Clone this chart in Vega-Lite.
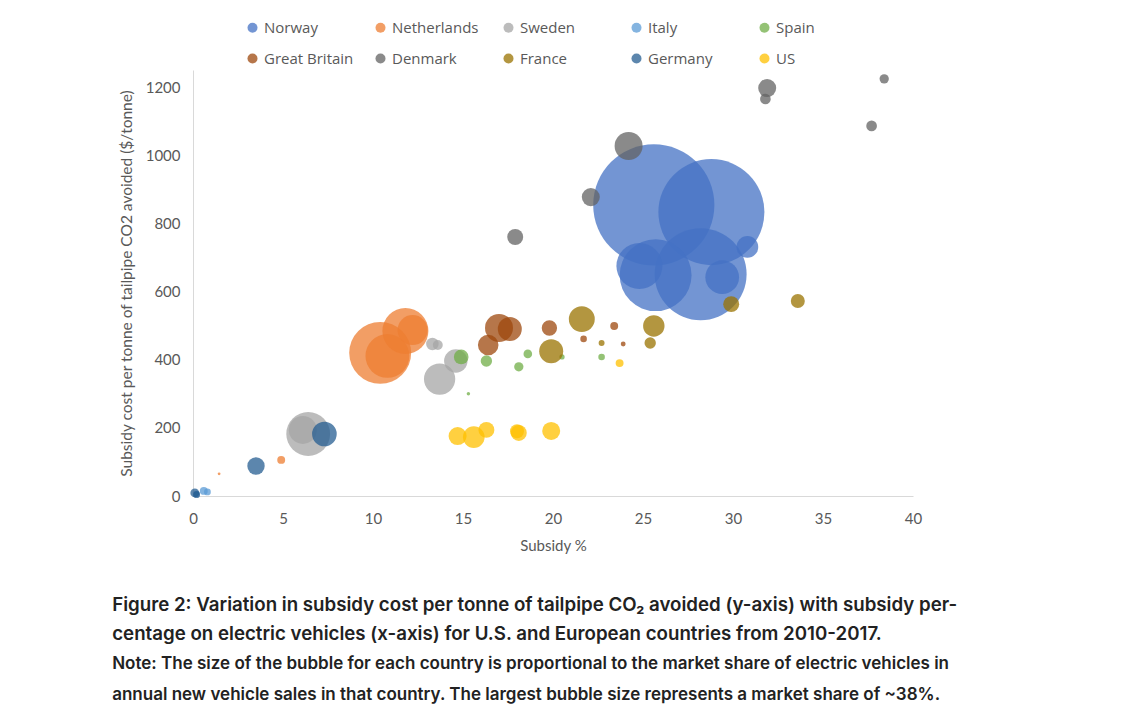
{
  "$schema": "https://vega.github.io/schema/vega-lite/v6.json",
  "description": "Subsidy cost per tonne of tailpipe CO2 avoided vs subsidy %",
  "width": 720,
  "height": 426,
  "autosize": {"type": "none"},
  "padding": {"left": 193, "top": 70, "right": 223, "bottom": 232},
  "background": "white",
  "title": {
    "text": [
      "Figure 2: Variation in subsidy cost per tonne of tailpipe CO₂ avoided (y-axis) with subsidy per-",
      "centage on electric vehicles (x-axis) for U.S. and European countries from 2010-2017."
    ],
    "subtitle": [
      "Note: The size of the bubble for each country is proportional to the market share of electric vehicles in",
      "annual new vehicle sales in that country. The largest bubble size represents a market share of ~38%."
    ],
    "orient": "bottom",
    "anchor": "start",
    "dx": -7,
    "offset": 43,
    "font": "Inter",
    "fontSize": 18.7,
    "fontWeight": 600,
    "color": "#222222",
    "lineHeight": 29,
    "subtitleFont": "Inter",
    "subtitleFontSize": 17,
    "subtitleFontWeight": 600,
    "subtitleColor": "#222222",
    "subtitleLineHeight": 31,
    "subtitlePadding": 12
  },
  "data": {
    "values": [
      {"country": "Norway", "subsidy": 25.6, "cost": 854, "share": 37.5},
      {"country": "Norway", "subsidy": 28.8, "cost": 833, "share": 28.7},
      {"country": "Norway", "subsidy": 28.2, "cost": 651, "share": 21.6},
      {"country": "Norway", "subsidy": 25.7, "cost": 648, "share": 13.2},
      {"country": "Norway", "subsidy": 24.8, "cost": 675, "share": 5.4},
      {"country": "Norway", "subsidy": 29.4, "cost": 642, "share": 2.9},
      {"country": "Norway", "subsidy": 30.8, "cost": 731, "share": 1.2},
      {"country": "Netherlands", "subsidy": 10.4, "cost": 420, "share": 9.8},
      {"country": "Netherlands", "subsidy": 10.8, "cost": 411, "share": 4.9},
      {"country": "Netherlands", "subsidy": 11.8, "cost": 484, "share": 5.4},
      {"country": "Netherlands", "subsidy": 12.2, "cost": 487, "share": 2.3},
      {"country": "Netherlands", "subsidy": 4.9, "cost": 106, "share": 0.16},
      {"country": "Netherlands", "subsidy": 1.45, "cost": 65, "share": 0.02},
      {"country": "Sweden", "subsidy": 6.4, "cost": 182, "share": 4.9},
      {"country": "Sweden", "subsidy": 6.1, "cost": 194, "share": 2.0},
      {"country": "Sweden", "subsidy": 13.7, "cost": 343, "share": 2.5},
      {"country": "Sweden", "subsidy": 14.6, "cost": 396, "share": 1.4},
      {"country": "Sweden", "subsidy": 13.3, "cost": 446, "share": 0.4},
      {"country": "Sweden", "subsidy": 13.6, "cost": 443, "share": 0.25},
      {"country": "Italy", "subsidy": 0.6, "cost": 15, "share": 0.16},
      {"country": "Italy", "subsidy": 0.8, "cost": 12, "share": 0.12},
      {"country": "Italy", "subsidy": 0.2, "cost": 6, "share": 0.1},
      {"country": "Spain", "subsidy": 14.9, "cost": 408, "share": 0.55},
      {"country": "Spain", "subsidy": 16.3, "cost": 396, "share": 0.33},
      {"country": "Spain", "subsidy": 18.6, "cost": 417, "share": 0.19},
      {"country": "Spain", "subsidy": 18.1, "cost": 379, "share": 0.22},
      {"country": "Spain", "subsidy": 20.5, "cost": 408, "share": 0.07},
      {"country": "Spain", "subsidy": 22.7, "cost": 408, "share": 0.11},
      {"country": "Spain", "subsidy": 15.3, "cost": 300, "share": 0.03},
      {"country": "Great Britain", "subsidy": 17.0, "cost": 493, "share": 2.0},
      {"country": "Great Britain", "subsidy": 17.6, "cost": 490, "share": 1.47},
      {"country": "Great Britain", "subsidy": 16.4, "cost": 443, "share": 1.08},
      {"country": "Great Britain", "subsidy": 19.8, "cost": 493, "share": 0.6},
      {"country": "Great Britain", "subsidy": 21.7, "cost": 461, "share": 0.11},
      {"country": "Great Britain", "subsidy": 23.4, "cost": 499, "share": 0.16},
      {"country": "Great Britain", "subsidy": 23.9, "cost": 446, "share": 0.06},
      {"country": "Denmark", "subsidy": 24.2, "cost": 1027, "share": 2.0},
      {"country": "Denmark", "subsidy": 22.1, "cost": 877, "share": 0.83},
      {"country": "Denmark", "subsidy": 17.9, "cost": 760, "share": 0.65},
      {"country": "Denmark", "subsidy": 31.9, "cost": 1197, "share": 0.83},
      {"country": "Denmark", "subsidy": 31.8, "cost": 1165, "share": 0.29},
      {"country": "Denmark", "subsidy": 37.7, "cost": 1086, "share": 0.29},
      {"country": "Denmark", "subsidy": 38.4, "cost": 1224, "share": 0.22},
      {"country": "France", "subsidy": 21.6, "cost": 519, "share": 1.72},
      {"country": "France", "subsidy": 19.9, "cost": 425, "share": 1.47},
      {"country": "France", "subsidy": 25.6, "cost": 499, "share": 1.17},
      {"country": "France", "subsidy": 25.4, "cost": 449, "share": 0.33},
      {"country": "France", "subsidy": 29.9, "cost": 563, "share": 0.65},
      {"country": "France", "subsidy": 33.6, "cost": 572, "share": 0.5},
      {"country": "France", "subsidy": 22.7, "cost": 449, "share": 0.09},
      {"country": "Germany", "subsidy": 7.3, "cost": 182, "share": 1.55},
      {"country": "Germany", "subsidy": 3.5, "cost": 88, "share": 0.77},
      {"country": "Germany", "subsidy": 0.1, "cost": 9, "share": 0.2},
      {"country": "Germany", "subsidy": 0.2, "cost": 4, "share": 0.12},
      {"country": "US", "subsidy": 14.7, "cost": 176, "share": 0.83},
      {"country": "US", "subsidy": 15.6, "cost": 173, "share": 1.2},
      {"country": "US", "subsidy": 16.3, "cost": 194, "share": 0.65},
      {"country": "US", "subsidy": 18.1, "cost": 185, "share": 0.65},
      {"country": "US", "subsidy": 18.0, "cost": 190, "share": 0.5},
      {"country": "US", "subsidy": 19.9, "cost": 191, "share": 0.83},
      {"country": "US", "subsidy": 23.7, "cost": 390, "share": 0.16}
    ]
  },
  "mark": {"type": "point", "shape": "circle", "filled": true, "opacity": 0.75, "strokeWidth": 0},
  "encoding": {
    "x": {
      "field": "subsidy",
      "type": "quantitative",
      "title": "Subsidy %",
      "scale": {"domain": [0, 40], "nice": false},
      "axis": {"values": [0, 5, 10, 15, 20, 25, 30, 35, 40], "labelFlush": false, "grid": false, "ticks": false, "labelPadding": 15, "titlePadding": 12}
    },
    "y": {
      "field": "cost",
      "type": "quantitative",
      "title": "Subsidy cost per tonne of tailpipe CO2 avoided ($/tonne)",
      "scale": {"domain": [0, 1250], "nice": false},
      "axis": {"values": [0, 200, 400, 600, 800, 1000, 1200], "format": "d", "labelFlush": false, "grid": false, "ticks": false, "labelPadding": 13, "titlePadding": 11, "titleFontSize": 15.5}
    },
    "size": {
      "field": "share",
      "type": "quantitative",
      "scale": {"type": "linear", "domain": [0, 38], "range": [0, 14884]},
      "legend": null
    },
    "color": {
      "field": "country",
      "type": "nominal",
      "scale": {
        "domain": ["Norway", "Netherlands", "Sweden", "Italy", "Spain", "Great Britain", "Denmark", "France", "Germany", "US"],
        "range": ["#4472C4", "#ED7D31", "#A5A5A5", "#5B9BD5", "#70AD47", "#9E480E", "#636363", "#997300", "#255E91", "#FFC000"]
      },
      "legend": {
        "title": null,
        "orient": "none",
        "legendX": 52,
        "legendY": -50,
        "direction": "horizontal",
        "columns": 5,
        "gridAlign": "all",
        "columnPadding": 19,
        "rowPadding": 15,
        "symbolType": "circle",
        "symbolSize": 100,
        "symbolOpacity": 0.75,
        "symbolStrokeWidth": 0,
        "labelFont": "Open Sans",
        "labelFontSize": 15,
        "labelColor": "#595959",
        "labelOffset": 4
      }
    }
  },
  "config": {
    "view": {"stroke": null},
    "axis": {
      "domainColor": "#D9D9D9",
      "labelFont": "Lato",
      "labelFontSize": 15,
      "labelColor": "#595959",
      "titleFont": "Lato",
      "titleFontSize": 15,
      "titleFontWeight": "normal",
      "titleColor": "#595959"
    }
  }
}
